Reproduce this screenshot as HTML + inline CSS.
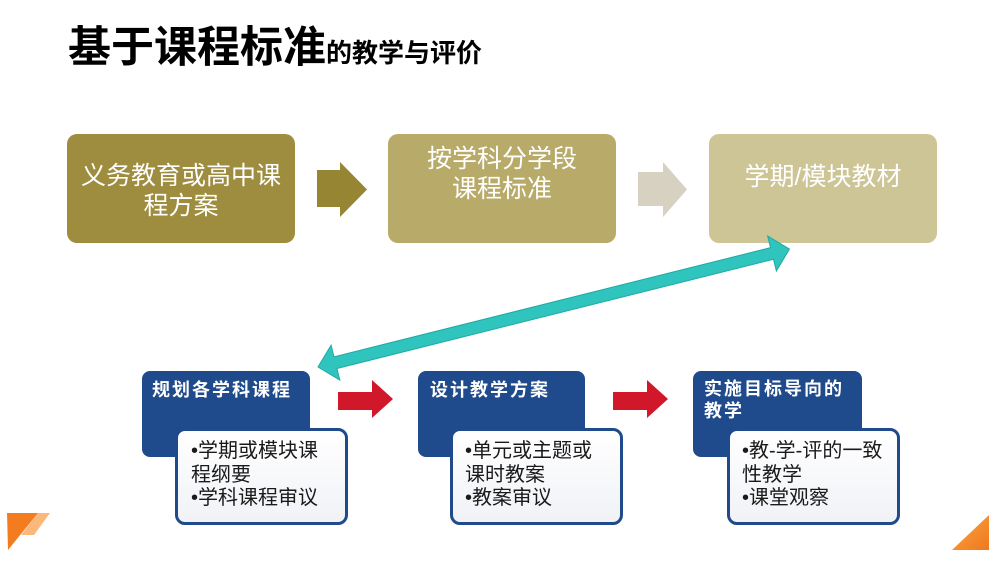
<!DOCTYPE html>
<html><head><meta charset="utf-8">
<style>
html,body{margin:0;padding:0;background:#fff;}
body{width:1000px;height:562px;position:relative;overflow:hidden;font-family:"Liberation Sans","Noto Sans CJK SC",sans-serif;}
.a{position:absolute;}
.title{left:68px;top:27px;line-height:43px;white-space:nowrap;color:#000;font-weight:700;}
.title .big{font-size:43px;}
.title .sm{font-size:26px;}
.tb{position:absolute;top:134px;width:228px;height:109px;border-radius:10px;}
.tt{position:absolute;left:0;width:100%;text-align:center;color:#fff;font-size:25px;line-height:30px;white-space:nowrap;}
.nb{position:absolute;top:371px;height:86px;background:#1f4a8b;border-radius:8px;}
.nt{position:absolute;color:#fff;font-weight:700;font-size:18px;letter-spacing:2px;line-height:22px;white-space:nowrap;}
.wb{position:absolute;top:428px;height:91px;border:3px solid #1f4a8b;border-radius:10px;background:linear-gradient(#ffffff,#f0f2f6);}
.wt{position:absolute;color:#1a1a1a;font-size:20px;line-height:23.5px;white-space:nowrap;}
</style></head>
<body>
<div class="a title"><span class="big">基于课程标准</span><span class="sm">的教学与评价</span></div>

<div class="tb" style="left:67px;background:#9e8c3f;">
  <div class="tt" style="top:27px;">义务教育或高中课<br>程方案</div>
</div>
<div class="tb" style="left:388px;background:#b8aa69;">
  <div class="tt" style="top:10px;">按学科分学段<br>课程标准</div>
</div>
<div class="tb" style="left:709px;background:#cec596;">
  <div class="tt" style="top:28px;">学期/模块教材</div>
</div>

<svg class="a" style="left:0;top:0;" width="1000" height="562" viewBox="0 0 1000 562">
  <polygon points="317,170 340,170 340,162 367,189.5 340,217 340,207 317,207" fill="#968532"/>
  <polygon points="638,172 663,172 663,162 687,189.5 663,217 663,206 638,206" fill="#d6d1c0"/>
  <g transform="translate(318,367) rotate(-14.04)">
    <polygon points="0,0 18,-18 18,-6 468,-6 468,-18 486,0 468,18 468,6 18,6 18,18" fill="#2fc4bd" stroke="#22a9a3" stroke-width="1"/>
  </g>
  <polygon points="338,392 372,392 372,380 393,399 372,418 372,410 338,410" fill="#d0182a"/>
  <polygon points="613,392 647,392 647,380 668,399 647,418 647,410 613,410" fill="#d0182a"/>
  <defs>
    <linearGradient id="og" x1="0" y1="0" x2="1" y2="1">
      <stop offset="0" stop-color="#f9a640"/><stop offset="1" stop-color="#f07820"/>
    </linearGradient>
  </defs>
  <polygon points="952,550 989,515 989,550" fill="url(#og)"/>
  <polygon points="38,513 50,513 34,535 21,535" fill="#fbb87a"/>
  <polygon points="7,513 38,513 8,550" fill="#f47c20"/>
</svg>

<div class="nb" style="left:142px;width:168px;"></div>
<div class="nt" style="left:152px;top:379px;">规划各学科课程</div>
<div class="wb" style="left:175px;width:167px;"></div>
<div class="wt" style="left:191px;top:440px;">•学期或模块课<br>程纲要<br>•学科课程审议</div>

<div class="nb" style="left:418px;width:167px;"></div>
<div class="nt" style="left:430px;top:379px;">设计教学方案</div>
<div class="wb" style="left:450px;width:167px;"></div>
<div class="wt" style="left:465px;top:440px;">•单元或主题或<br>课时教案<br>•教案审议</div>

<div class="nb" style="left:693px;width:169px;"></div>
<div class="nt" style="left:704px;top:378px;">实施目标导向的<br>教学</div>
<div class="wb" style="left:727px;width:167px;"></div>
<div class="wt" style="left:742px;top:440px;">•教-学-评的一致<br>性教学<br>•课堂观察</div>
</body></html>
